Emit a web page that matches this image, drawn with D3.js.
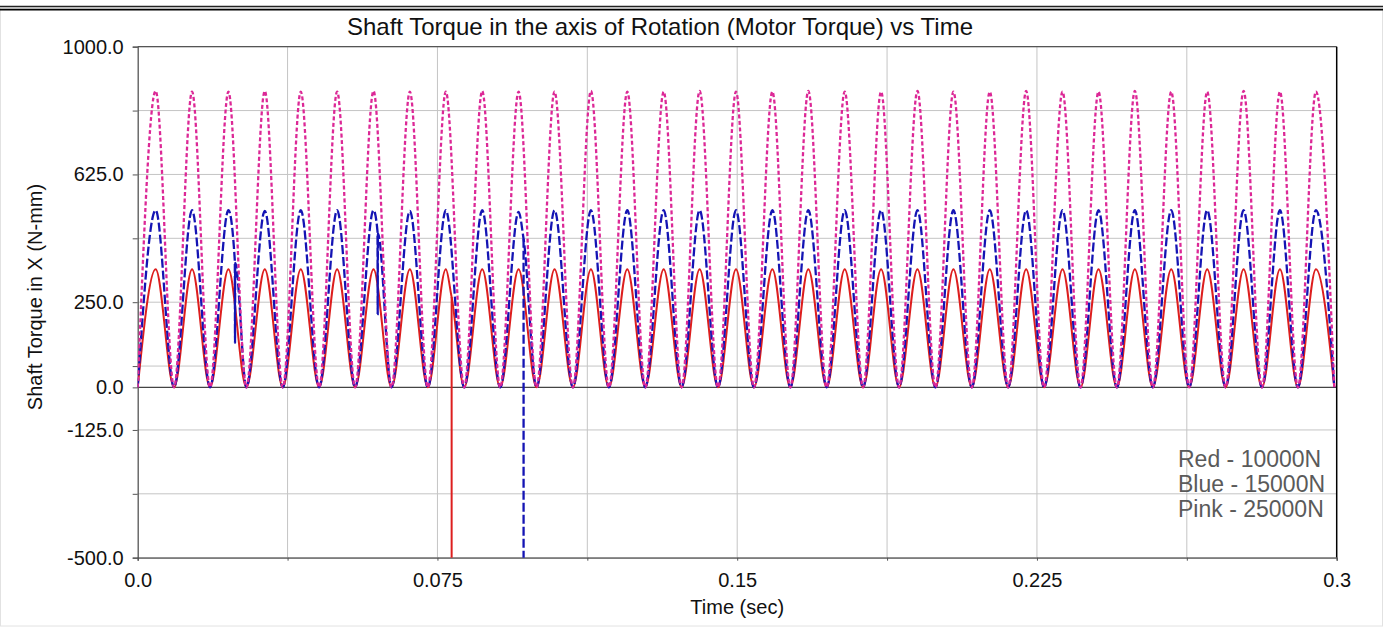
<!DOCTYPE html>
<html>
<head>
<meta charset="utf-8">
<script src="https://cdn.jsdelivr.net/npm/d3@7"></script>
<style>
  body { margin: 0; background: #fff; }
  svg { display: block; font-family: "Liberation Sans", Arial, sans-serif; }
</style>
</head>
<body>
<svg id="chart" width="1383" height="627"></svg>
<script>
// values: zero crossings and crests of each cycle (sec)
const troughTimes = [0, 0.0091, 0.0181, 0.0272, 0.0363, 0.0454, 0.0544, 0.0635, 0.0726, 0.0817,
  0.0907, 0.0998, 0.1089, 0.1179, 0.1270, 0.1361, 0.1452, 0.1542, 0.1633, 0.1724,
  0.1815, 0.1905, 0.1996, 0.2087, 0.2178, 0.2268, 0.2359, 0.2450, 0.2540, 0.2631,
  0.2722, 0.2813, 0.2903, 0.2994];
const peakTimes = [0.0045, 0.0136, 0.0227, 0.0318, 0.0408, 0.0499, 0.0590, 0.0681, 0.0771, 0.0862,
  0.0953, 0.1043, 0.1134, 0.1225, 0.1316, 0.1406, 0.1497, 0.1588, 0.1678, 0.1769,
  0.1860, 0.1951, 0.2041, 0.2132, 0.2223, 0.2314, 0.2404, 0.2495, 0.2586, 0.2676,
  0.2767, 0.2858, 0.2948];
const troughValue = 0;

const redPeaks = [347, 347, 347, 347, 347, 347, 347, 347, 347, 347, 347, 347, 347, 347, 347, 347, 347,
  347, 347, 347, 347, 347, 347, 347, 347, 347, 347, 347, 347, 347, 347, 347, 347];
const bluePeaks = [520, 520, 520, 518, 520, 520, 520, 518, 520, 520, 515, 520, 520, 520, 520, 520, 520,
  520, 520, 520, 520, 520, 520, 520, 520, 520, 520, 520, 520, 520, 520, 520, 520];
const pinkPeaks = [870, 868, 868, 870, 868, 868, 870, 868, 868, 870, 868, 868, 870, 868, 868, 870, 868,
  868, 870, 868, 868, 870, 868, 868, 870, 868, 868, 870, 868, 868, 870, 868, 868];

// short glitches inside the curve [time, value]
const redGlitches = [[0.0785, 268], [0.0786, 262]];
const blueGlitches = [[0.0243, 372], [0.02435, 130], [0.0244, 365],
  [0.0600, 458], [0.06005, 215], [0.0601, 452],
  [0.0965, 440], [0.0966, 432]];
const pinkGlitches = [];
// deep spikes off the bottom [time, from, to]
const redSpikes = [[0.07855, 265, -560]];
const blueSpikes = [[0.09655, 436, -560]];
const pinkSpikes = [];

const xTickValues = [0, 0.0375, 0.075, 0.1125, 0.15, 0.1875, 0.225, 0.2625, 0.3];
const xTickLabels = {"0": "0.0", "0.075": "0.075", "0.15": "0.15", "0.225": "0.225", "0.3": "0.3"};
const yTickValues = [1000, 812.5, 625, 437.5, 250, 62.5, 0, -125, -312.5, -500];
const yTickLabels = [1000, 625, 250, 0, -125, -500];
const legendLines = ["Red - 10000N", "Blue - 15000N", "Pink - 25000N"];

const margin = {top: 46.7, right: 46.3, bottom: 69.3, left: 137.7},
    W = 1383, H = 627,
    width = W - margin.left - margin.right,
    height = H - margin.top - margin.bottom;

const svg = d3.select("#chart");

// outer frame
svg.append("rect").attr("x", 0.5).attr("y", 8).attr("width", W - 1).attr("height", H - 9)
  .attr("fill", "none").attr("stroke", "#e2e2e2");
svg.append("line").attr("x1", 0).attr("x2", W).attr("y1", 6.5).attr("y2", 6.5)
  .attr("stroke", "#222").attr("stroke-width", 1.6);
svg.append("line").attr("x1", 0).attr("x2", W).attr("y1", 9.6).attr("y2", 9.6)
  .attr("stroke", "#000").attr("stroke-width", 1.6);

const g = svg.append("g").attr("transform", "translate(" + margin.left + "," + margin.top + ")");

const x = d3.scaleLinear().domain([0, 0.3]).range([0, width]);
const y = d3.scaleLinear().domain([-500, 1000]).range([height, 0]);

// grid
g.append("g").selectAll("line").data(yTickValues.filter(d => d !== 0)).enter().append("line")
  .attr("x1", 0).attr("x2", width).attr("y1", d => y(d)).attr("y2", d => y(d))
  .attr("stroke", "#c4c4c4").attr("stroke-width", 1);
g.append("g").selectAll("line").data(xTickValues.slice(1, -1)).enter().append("line")
  .attr("y1", 0).attr("y2", height).attr("x1", d => x(d)).attr("x2", d => x(d))
  .attr("stroke", "#c4c4c4").attr("stroke-width", 1);

// zero line
g.append("line").attr("x1", 0).attr("x2", width).attr("y1", y(0)).attr("y2", y(0))
  .attr("stroke", "#444").attr("stroke-width", 1.3);

// frame of the plot
g.append("line").attr("x1", 0).attr("x2", width).attr("y1", 0).attr("y2", 0)
  .attr("stroke", "#555").attr("stroke-width", 1.3);
g.append("line").attr("x1", width).attr("x2", width).attr("y1", 0).attr("y2", height)
  .attr("stroke", "#000").attr("stroke-width", 1.5);

// axes
const yAxis = g.append("g")
  .call(d3.axisLeft(y).tickValues(yTickValues).tickSize(5).tickPadding(9)
    .tickFormat(d => yTickLabels.includes(d) ? d.toFixed(1) : ""));
const xAxis = g.append("g").attr("transform", "translate(0," + height + ")")
  .call(d3.axisBottom(x).tickValues(xTickValues).tickSize(3).tickPadding(12)
    .tickFormat(d => xTickLabels[String(d)] || ""));
[yAxis, xAxis].forEach(a => {
  a.select(".domain").attr("stroke", "#555").attr("stroke-width", 1.3);
  a.selectAll(".tick line").attr("stroke", "#555");
  a.selectAll(".tick text").attr("fill", "#111").style("font-size", "20px")
    .style("font-family", '"Liberation Sans", Arial, sans-serif');
});

// series
function buildSeries(peaks, glitches) {
  const pts = troughTimes.map(t => [t, troughValue])
    .concat(peakTimes.map((t, i) => [t, peaks[i]]))
    .concat(glitches);
  return pts.sort((a, b) => a[0] - b[0]);
}

g.append("clipPath").attr("id", "plotclip").append("rect")
  .attr("width", width).attr("height", height);

const line = d3.line().x(d => x(d[0])).y(d => y(d[1])).curve(d3.curveMonotoneX);
const spikeLine = d3.line().x(d => x(d[0])).y(d => y(d[1]));
const series = [
  {data: buildSeries(redPeaks, redGlitches), spikes: redSpikes, color: "#dd1e1e", dash: null, w: 2},
  {data: buildSeries(bluePeaks, blueGlitches), spikes: blueSpikes, color: "#1414b4", dash: "9,3", w: 2.3},
  {data: buildSeries(pinkPeaks, pinkGlitches), spikes: pinkSpikes, color: "#dc2896", dash: "4,2.5", w: 2.3}
];
const lines = g.append("g").attr("clip-path", "url(#plotclip)");
series.forEach(s => {
  lines.append("path").datum(s.data)
    .attr("d", line)
    .attr("fill", "none")
    .attr("stroke", s.color)
    .attr("stroke-width", s.w)
    .attr("stroke-dasharray", s.dash);
  s.spikes.forEach(sp => {
    lines.append("path").datum([[sp[0], sp[1]], [sp[0], sp[2]]])
      .attr("d", spikeLine)
      .attr("fill", "none")
      .attr("stroke", s.color)
      .attr("stroke-width", s.w)
      .attr("stroke-dasharray", s.dash);
  });
});

// titles
svg.append("text").attr("x", 660).attr("y", 35).attr("text-anchor", "middle")
  .style("font-size", "24px").attr("fill", "#111")
  .text("Shaft Torque in the axis of Rotation (Motor Torque) vs Time");
svg.append("text").attr("transform", "translate(42,297) rotate(-90)").attr("text-anchor", "middle")
  .style("font-size", "20px").attr("fill", "#111")
  .text("Shaft Torque in X (N-mm)");
svg.append("text").attr("x", margin.left + width / 2).attr("y", 614).attr("text-anchor", "middle")
  .style("font-size", "20px").attr("fill", "#111")
  .text("Time (sec)");

// legend note
svg.append("g").selectAll("text").data(legendLines).enter().append("text")
  .attr("x", 1178).attr("y", (d, i) => 467 + i * 25)
  .style("font-size", "23px").attr("fill", "#5a5a5a")
  .text(d => d);
</script>
</body>
</html>
